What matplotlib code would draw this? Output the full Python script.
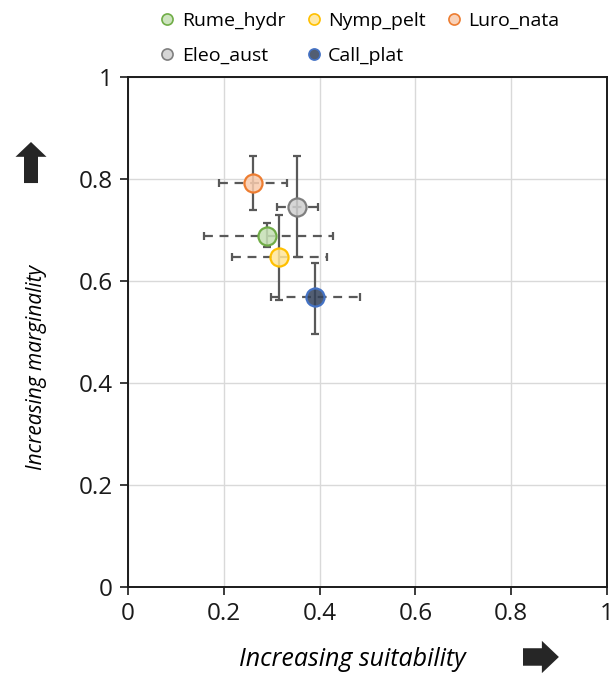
import matplotlib
matplotlib.use("Agg")
import matplotlib.pyplot as plt
import numpy as np
from matplotlib.colors import to_rgba
from matplotlib.lines import Line2D
from matplotlib.patches import FancyArrow

# species niche position: suitability (x) vs marginality (y), with ranges
species = ["Rume_hydr", "Nymp_pelt", "Luro_nata", "Eleo_aust", "Call_plat"]
suit = np.array([0.290, 0.315, 0.261, 0.353, 0.390])
suit_lo = np.array([0.159, 0.217, 0.190, 0.311, 0.299])
suit_hi = np.array([0.428, 0.415, 0.332, 0.397, 0.484])
marg = np.array([0.688, 0.647, 0.792, 0.745, 0.569])
marg_lo = np.array([0.667, 0.563, 0.739, 0.647, 0.496])
marg_hi = np.array([0.714, 0.729, 0.845, 0.845, 0.635])

FACE = ["#c5e0b4", "#ffe699", "#f8cbad", "#cfcfcf", "#34425a"]
EDGE = ["#70ad47", "#ffc000", "#ed7d31", "#7f7f7f", "#4472c4"]
ERR = "#595959"
GRID = "#d9d9d9"
ticks = [0, 0.2, 0.4, 0.6, 0.8, 1]
tick_labels = ["0", "0.2", "0.4", "0.6", "0.8", "1"]

plt.rcParams["font.family"] = ["Open Sans", "DejaVu Sans"]

fig = plt.figure(figsize=(6.09, 6.73), dpi=100)
ax = fig.add_axes([128 / 609, 86 / 673, 479 / 609, 510 / 673])

for i in range(len(species)):
    eb = ax.errorbar(suit[i], marg[i],
                     xerr=[[suit[i] - suit_lo[i]], [suit_hi[i] - suit[i]]],
                     fmt="none", ecolor=ERR, elinewidth=1.6, capsize=3, capthick=1.6, zorder=3)
    eb[2][0].set_linestyle((0, (4, 3)))
    ax.errorbar(suit[i], marg[i],
                yerr=[[marg[i] - marg_lo[i]], [marg_hi[i] - marg[i]]],
                fmt="none", ecolor=ERR, elinewidth=1.6, capsize=3, capthick=1.6, zorder=3)
    ax.plot(suit[i], marg[i], "o", ms=13, mfc=to_rgba(FACE[i], 0.85), mec=EDGE[i],
            mew=1.6, zorder=4)

ax.set_xlim(0, 1)
ax.set_ylim(0, 1)
ax.set_xticks(ticks)
ax.set_xticklabels(tick_labels)
ax.set_yticks(ticks)
ax.set_yticklabels(tick_labels)
ax.grid(True, color=GRID, lw=1.0, zorder=0)
ax.set_axisbelow(True)
for side in ax.spines:
    ax.spines[side].set_color("#1a1a1a")
    ax.spines[side].set_linewidth(1.4)
ax.tick_params(labelsize=17.5, direction="out", length=6, width=1.2, colors="#1a1a1a", pad=5)
ax.set_xlabel("Increasing suitability", fontsize=18, style="italic")
ax.set_ylabel("Increasing marginality", fontsize=15, style="italic")
ax.xaxis.set_label_coords(0.468, -0.117)
ax.yaxis.set_label_coords(-0.17, 0.43)

# legend: column-major order so rows read Rume/Nymp/Luro, Eleo/Call
order = [0, 3, 1, 4, 2]
handles = [Line2D([], [], ls="none", marker="o", ms=8, mfc=to_rgba(FACE[i], 0.85),
                  mec=EDGE[i], mew=1.2) for i in order]
fig.legend(handles, [species[i] for i in order], ncol=3, frameon=False,
           loc="upper left", bbox_to_anchor=(140 / 609, 1.008), fontsize=14,
           handletextpad=0.25, columnspacing=0.95, labelspacing=0.86, handlelength=1.0)

# direction arrows
fig.add_artist(FancyArrow(31 / 609, 0.728, 0, 0.039, width=14 / 609,
                          head_width=31 / 609, head_length=0.022,
                          length_includes_head=False, transform=fig.transFigure,
                          color="#262626", lw=0))
fig.add_artist(FancyArrow(523 / 609, 0.0238, 0.031, 0, width=0.026,
                          head_width=0.048, head_length=17 / 609,
                          length_includes_head=False, transform=fig.transFigure,
                          color="#262626", lw=0))

fig.savefig("out.png", dpi=100)
